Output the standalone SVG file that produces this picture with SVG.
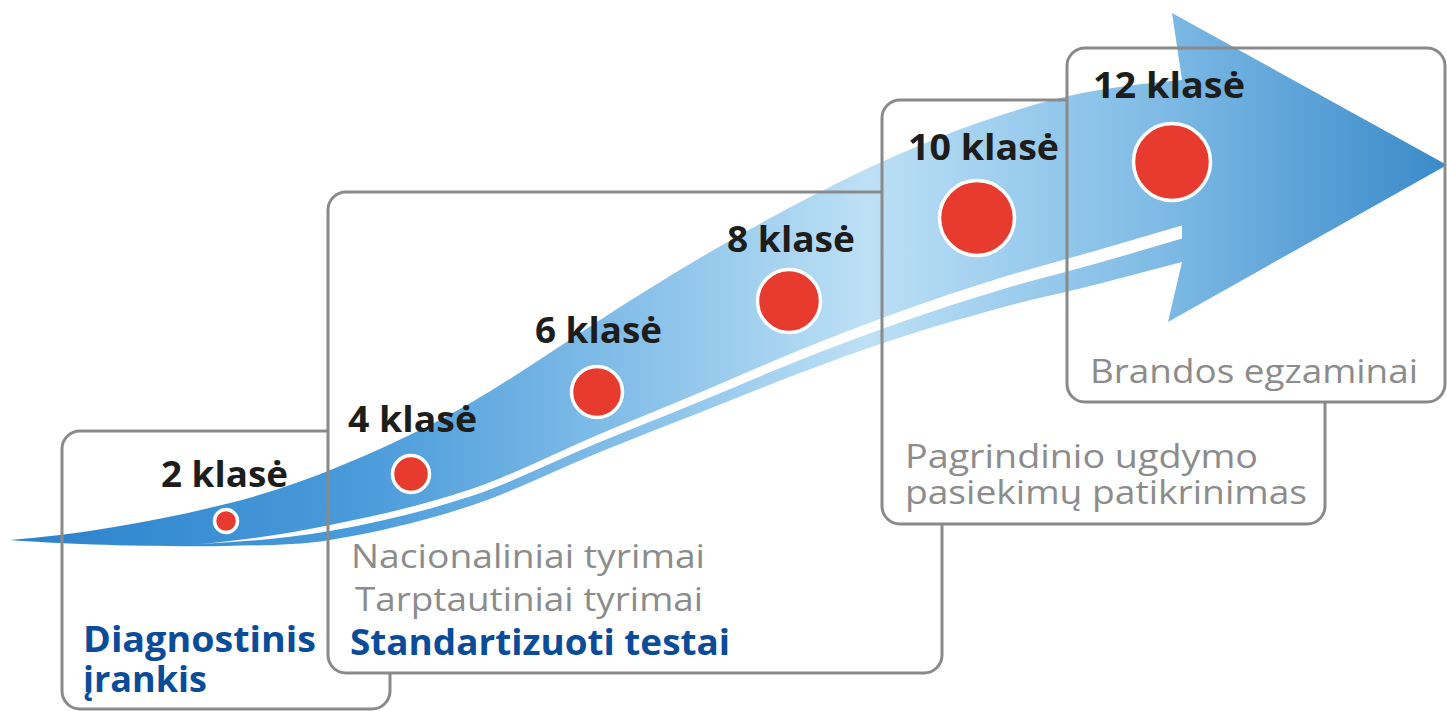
<svg xmlns="http://www.w3.org/2000/svg" width="1447" height="711" viewBox="0 0 1447 711">
<defs>
<linearGradient id="arrowGrad" gradientUnits="userSpaceOnUse" x1="0" y1="0" x2="1447" y2="0">
<stop offset="0" stop-color="#2a80cb"/>
<stop offset="0.25" stop-color="#4a9bda"/>
<stop offset="0.45" stop-color="#8ac2ea"/>
<stop offset="0.6" stop-color="#bde0f5"/>
<stop offset="0.7" stop-color="#9dcdee"/>
<stop offset="0.8" stop-color="#7fbbe5"/>
<stop offset="1" stop-color="#3a8aca"/>
</linearGradient>
<style>
.boxfill{fill:#ffffff}
.box{fill:none;stroke:#8a8a8a;stroke-width:3}
.dot{fill:#e63b2e;stroke:#ffffff;stroke-width:3.5}
.lbl{font-family:"Open Sans","Liberation Sans",sans-serif;font-weight:700;font-size:36px;fill:#1d1d1b}
.desc{font-family:"Open Sans","Liberation Sans",sans-serif;font-size:33px;fill:#8c8c8c}
.hl{font-family:"Open Sans","Liberation Sans",sans-serif;font-weight:700;font-size:35px;fill:#0b4c99}
</style>
</defs>
<rect x="0" y="0" width="1447" height="711" fill="#ffffff"/>
<g id="box-fills">
<rect class="boxfill" x="62" y="431" width="328" height="278" rx="18"/>
<rect class="boxfill" x="328" y="192" width="614" height="481" rx="18"/>
<rect class="boxfill" x="882" y="100" width="443" height="424" rx="18"/>
<rect class="boxfill" x="1067" y="48" width="378" height="354" rx="18"/>
</g>
<g id="arrow">
<path fill="url(#arrowGrad)" d="M10,540 C83.3,534.1 156.7,521.3 230,503 C296.7,486.3 363.3,458.3 430,425 C486.7,396.7 543.3,356.8 600,320 C686.7,263.7 773.3,213.6 860,172 C926.7,140 993.3,114.7 1060,98 C1100.7,87.8 1141.3,84 1182,80 L1172,13 L1447,165 L1168,322 L1182,262 C1154.7,269.1 1127.3,276.6 1100,283.5 C1066.7,291.9 1033.3,299 1000,308 C966.7,317 933.3,326.7 900,337.5 C866.7,348.3 833.3,360.5 800,373 C766.7,385.5 733.3,399.3 700,412.5 C666.7,425.7 633.3,438.4 600,452 C556.7,469.6 513.3,491.9 470,506 C423.3,521.2 376.7,532.4 330,540 C295,545.7 260,545 225,546 C150,547 60,544 10,540 Z"/>
<path fill="#ffffff" d="M200,544 C243.3,540.5 286.7,533.75 330,525 C376.7,515.6 423.3,505.2 470,489.5 C513.3,474.9 556.7,452.3 600,434 C633.3,419.9 666.7,406.5 700,392.5 C733.3,378.5 766.7,363.5 800,350 C833.3,336.5 866.7,323.5 900,311.5 C933.3,299.5 966.7,288.3 1000,278 C1033.3,267.7 1066.7,259.1 1100,249.5 C1127.3,241.6 1154.7,233.4 1182,225.5 L1182,238.5 C1154.7,246.5 1127.3,254.8 1100,262.5 C1066.7,271.9 1033.3,280 1000,290 C966.7,300 933.3,310.8 900,322.5 C866.7,334.2 833.3,346.8 800,360 C766.7,373.2 733.3,387.8 700,401.5 C666.7,415.2 633.3,428.2 600,442 C556.7,459.9 513.3,482.2 470,496.5 C423.3,511.9 376.7,522.8 330,531 C286.7,538.6 243.3,541.8 200,544 Z"/>
</g>
<g id="node-2">
<path class="box" d="M328,431 H80 A18,18 0 0 0 62,449 V691 A18,18 0 0 0 80,709 H372 A18,18 0 0 0 390,691 V673"/>
<circle class="dot" cx="226" cy="521" r="11.5"/>
<text class="lbl" x="161" y="487" textLength="127" lengthAdjust="spacingAndGlyphs">2 klasė</text>
<text class="hl" x="83" y="652" textLength="233" lengthAdjust="spacingAndGlyphs">Diagnostinis</text>
<text class="hl" x="83" y="692" textLength="124" lengthAdjust="spacingAndGlyphs">įrankis</text>
</g>
<g id="node-4-6-8">
<path class="box" d="M882,192 H346 A18,18 0 0 0 328,210 V655 A18,18 0 0 0 346,673 H924 A18,18 0 0 0 942,655 V524"/>
<circle class="dot" cx="411" cy="474" r="18.5"/>
<circle class="dot" cx="597" cy="392" r="25.5"/>
<circle class="dot" cx="789" cy="301" r="31.5"/>
<text class="lbl" x="348" y="432" textLength="129" lengthAdjust="spacingAndGlyphs">4 klasė</text>
<text class="lbl" x="535" y="343" textLength="127" lengthAdjust="spacingAndGlyphs">6 klasė</text>
<text class="lbl" x="727" y="252" textLength="128" lengthAdjust="spacingAndGlyphs">8 klasė</text>
<text class="desc" x="351" y="568" textLength="354" lengthAdjust="spacingAndGlyphs">Nacionaliniai tyrimai</text>
<text class="desc" x="355" y="611" textLength="348" lengthAdjust="spacingAndGlyphs">Tarptautiniai tyrimai</text>
<text class="hl" x="350" y="655" textLength="380" lengthAdjust="spacingAndGlyphs">Standartizuoti testai</text>
</g>
<g id="node-10">
<path class="box" d="M1067,100 H900 A18,18 0 0 0 882,118 V506 A18,18 0 0 0 900,524 H1307 A18,18 0 0 0 1325,506 V402"/>
<circle class="dot" cx="977" cy="218" r="37.5"/>
<text class="lbl" x="908" y="160" textLength="151" lengthAdjust="spacingAndGlyphs">10 klasė</text>
<text class="desc" x="905" y="468" textLength="353" lengthAdjust="spacingAndGlyphs">Pagrindinio ugdymo</text>
<text class="desc" x="905" y="504" textLength="402" lengthAdjust="spacingAndGlyphs">pasiekimų patikrinimas</text>
</g>
<g id="node-12">
<rect class="box" x="1067" y="48" width="378" height="354" rx="18"/>
<circle class="dot" cx="1172" cy="162" r="38.5"/>
<text class="lbl" x="1093" y="98" textLength="152" lengthAdjust="spacingAndGlyphs">12 klasė</text>
<text class="desc" x="1090" y="383" textLength="328" lengthAdjust="spacingAndGlyphs">Brandos egzaminai</text>
</g>
</svg>
